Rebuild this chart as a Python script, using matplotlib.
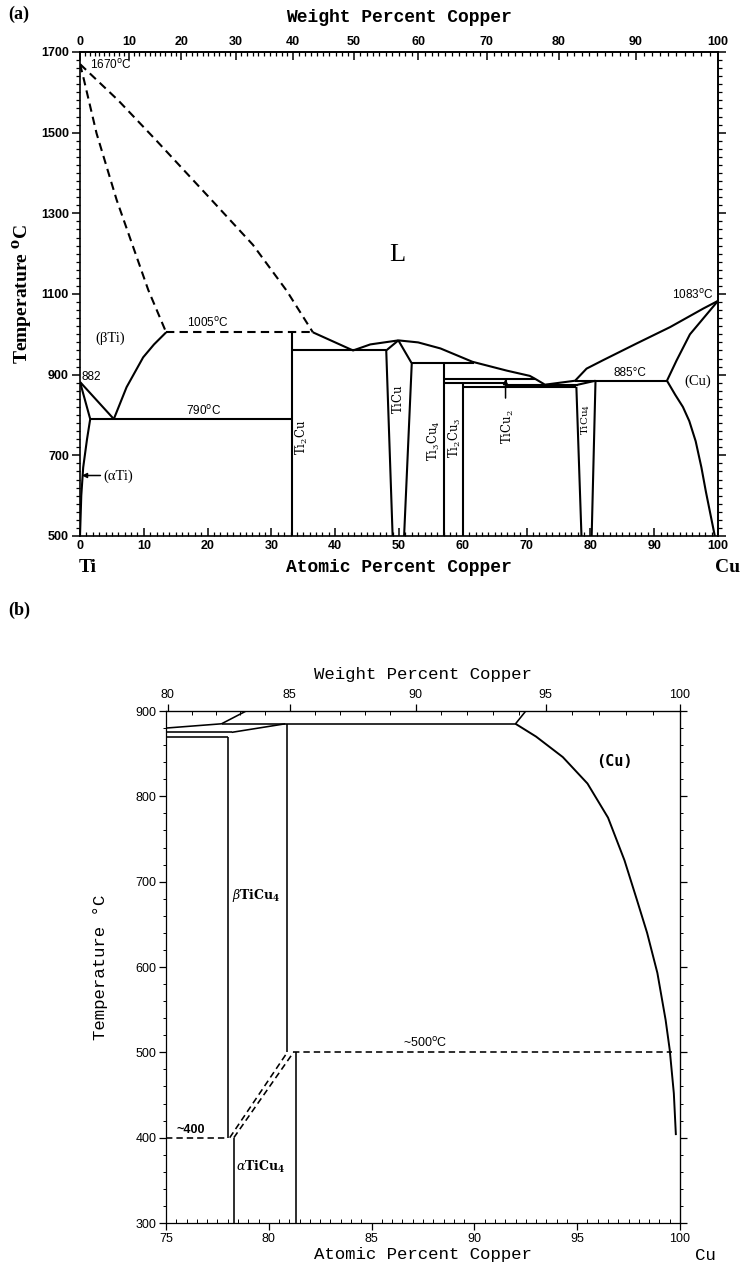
import numpy as np
import matplotlib.pyplot as plt
from matplotlib.ticker import MultipleLocator, FixedLocator

M_CU, M_TI = 63.546, 47.867


def at2wt(x):
    x = np.asarray(x, float)
    with np.errstate(divide='ignore', invalid='ignore'):
        return 100 * M_CU * x / (M_CU * x + M_TI * (100 - x))


def wt2at(w):
    w = np.asarray(w, float)
    with np.errstate(divide='ignore', invalid='ignore'):
        return 100 * (w / M_CU) / (w / M_CU + (100 - w) / M_TI)


# ---- (a) full Ti-Cu diagram: atomic % Cu, temperature degC ----
liq_ti_x = [0, 6.0, 12.0, 20.8, 27.1, 32.4, 36.5]
liq_ti_t = [1670, 1580, 1480, 1330, 1222, 1108, 1005]
sol_ti_x = [0, 0.5, 2.6, 5.75, 10.7, 13.5]
sol_ti_t = [1670, 1639, 1498, 1333, 1110, 1005]
transus_x = [13.5, 11.6, 9.9, 7.3, 5.3]
transus_t = [1005, 975, 943, 869, 790]
beta_eut_x = [0, 5.3]
beta_eut_t = [882, 790]
alpha_up_x = [0, 1.6]
alpha_up_t = [882, 790]
alpha_solv_x = [1.6, 1.1, 0.5, 0.2, 0]
alpha_solv_t = [790, 740, 670, 600, 500]
liq_mid_x = [36.5, 42.8, 45.5, 49.9, 53.0, 56.5, 61.5, 66.9, 70.5, 71.3, 72.8]
liq_mid_t = [1005, 960, 975, 985, 980, 965, 932, 910, 897, 890, 876]
ticu_l_x = [49.9, 48.0, 49.0]
ticu_l_t = [985, 960, 500]
ticu_r_x = [49.9, 52.0, 50.8]
ticu_r_t = [985, 928, 500]
liq_cu_x = [72.8, 77.6, 79.4, 82.0, 87.2, 92.5, 97.7, 100]
liq_cu_t = [875, 885, 915, 936, 977, 1018, 1064, 1083]
sol_cu_x = [92.0, 93.5, 95.6, 100]
sol_cu_t = [885, 935, 1000, 1083]
solv_cu_x = [92.0, 93.3, 94.5, 95.5, 96.5, 97.4, 98.1, 98.8, 99.5]
solv_cu_t = [885, 850, 820, 785, 735, 670, 610, 555, 500]
ticu4_sol_x = [78.0, 80.8]
ticu4_sol_t = [875, 885]
ticu4_l_x = [77.8, 78.6]
ticu4_l_t = [870, 500]
ticu4_r_x = [80.8, 80.2]
ticu4_r_t = [885, 500]
# isotherms: (T, x_start, x_end)
iso_solid = [(790, 1.6, 33.3), (960, 33.3, 48.0), (928, 52.0, 61.7),
             (890, 57.1, 71.3), (880, 57.1, 66.7), (875, 66.7, 78.0),
             (870, 60.0, 77.8), (885, 77.6, 92.0)]
iso_dash = [(1005, 13.5, 36.5)]
# line compounds: (x, T_low, T_high)
compounds = [(33.3, 500, 1005), (57.1, 500, 928), (60.0, 500, 880),
             (66.7, 870, 890)]
wt_ticks_a = [0, 10, 20, 30, 40, 50, 60, 70, 80, 90, 100]
t_ticks_a = [500, 700, 900, 1100, 1300, 1500, 1700]

# ---- (b) Cu-rich corner ----
b_liq_x = [75.0, 77.7, 78.9]
b_liq_t = [880, 885, 900]
b_solcu_x = [92.0, 92.5]
b_solcu_t = [885, 900]
b_solv_x = [92.0, 93.0, 94.3, 95.5, 96.5, 97.3, 97.9, 98.4, 98.9, 99.3, 99.5, 99.7, 99.8]
b_solv_t = [885, 870, 846, 815, 775, 725, 679, 640, 593, 538, 503, 452, 403]
b_bsol_x = [78.2, 80.8]
b_bsol_t = [875, 885]
b_iso_solid = [(885, 77.7, 92.0), (875, 75.0, 78.2), (870, 75.0, 78.0)]
b_vert = [(78.0, 400, 870), (80.9, 500, 885), (78.3, 300, 400), (81.3, 300, 500)]
b_iso_dash = [(400, 75.0, 78.0), (500, 81.2, 99.6)]
b_slant1_x = [78.1, 80.9]
b_slant1_t = [400, 500]
b_slant2_x = [78.3, 81.2]
b_slant2_t = [400, 500]
wt_ticks_b = [80, 85, 90, 95, 100]

DASH = (0, (4, 2.5))

fig = plt.figure(figsize=(7.45, 12.69), dpi=100)
W, H = 745.0, 1269.0


def line(ax, x, t, dash=False, lw=1.5):
    ax.plot(x, t, color='black', lw=lw, ls=DASH if dash else '-',
            solid_capstyle='butt', solid_joinstyle='round')


# =================== panel (a) ===================
ax = fig.add_axes([80 / W, 1 - 536 / H, 638 / W, 484 / H])
ax.set_xlim(0, 100)
ax.set_ylim(500, 1700)

line(ax, liq_ti_x, liq_ti_t, dash=True)
line(ax, sol_ti_x, sol_ti_t, dash=True)
for t, x0, x1 in iso_dash:
    line(ax, [x0, x1], [t, t], dash=True)
for xs, ts in [(transus_x, transus_t), (beta_eut_x, beta_eut_t),
               (alpha_up_x, alpha_up_t), (alpha_solv_x, alpha_solv_t),
               (liq_mid_x, liq_mid_t), (ticu_l_x, ticu_l_t),
               (ticu_r_x, ticu_r_t), (liq_cu_x, liq_cu_t),
               (sol_cu_x, sol_cu_t), (solv_cu_x, solv_cu_t),
               (ticu4_sol_x, ticu4_sol_t), (ticu4_l_x, ticu4_l_t),
               (ticu4_r_x, ticu4_r_t)]:
    line(ax, xs, ts)
for t, x0, x1 in iso_solid:
    line(ax, [x0, x1], [t, t])
for x, t0, t1 in compounds:
    line(ax, [x, x], [t0, t1])

for s in ax.spines.values():
    s.set_linewidth(1.2)

tick_font = dict(family='Liberation Sans', weight='bold', size=9)
ax.xaxis.set_major_locator(MultipleLocator(10))
ax.xaxis.set_minor_locator(MultipleLocator(1))
ax.yaxis.set_major_locator(FixedLocator(t_ticks_a))
ax.yaxis.set_minor_locator(MultipleLocator(20))
ax.tick_params(axis='x', which='major', direction='in', length=6, width=1.1, pad=3)
ax.tick_params(axis='x', which='minor', direction='in', length=3, width=0.9)
ax.tick_params(axis='y', which='major', direction='out', length=6, width=1.1, pad=2)
ax.tick_params(axis='y', which='minor', direction='out', length=3, width=0.9)
for lab in ax.get_xticklabels() + ax.get_yticklabels():
    lab.set_fontproperties(tick_font)

secx = ax.secondary_xaxis('top', functions=(at2wt, wt2at))
secx.xaxis.set_major_locator(FixedLocator(wt_ticks_a))
secx.xaxis.set_minor_locator(FixedLocator(list(range(0, 101))))
secx.tick_params(which='major', direction='in', length=6, width=1.1, pad=3)
secx.tick_params(which='minor', direction='in', length=3, width=0.9)
for lab in secx.get_xticklabels():
    lab.set_fontproperties(tick_font)
secx.spines['top'].set_linewidth(1.2)

secy = ax.secondary_yaxis('right')
secy.yaxis.set_major_locator(FixedLocator(t_ticks_a))
secy.yaxis.set_minor_locator(MultipleLocator(20))
secy.tick_params(which='major', direction='out', length=6, width=1.1, labelright=False)
secy.tick_params(which='minor', direction='out', length=3, width=0.9)
secy.spines['right'].set_linewidth(1.2)

mono_b = dict(family='Liberation Mono', weight='bold', size=13)
fig.text(399 / W, 1 - 17 / H, 'Weight Percent Copper', ha='center', va='center', **mono_b)
fig.text(399 / W, 1 - 568 / H, 'Atomic Percent Copper', ha='center', va='center', **mono_b)
fig.text(22 / W, 1 - 294 / H, r'Temperature $^{\mathbf{o}}$C', rotation=90,
         ha='center', va='center', family='Liberation Serif', weight='bold', size=14,
         math_fontfamily='dejavuserif')
fig.text(88 / W, 1 - 568 / H, 'Ti', ha='center', va='center',
         family='Liberation Serif', weight='bold', size=14)
fig.text(728 / W, 1 - 568 / H, 'Cu', ha='center', va='center',
         family='Liberation Serif', weight='bold', size=14)
fig.text(8 / W, 1 - 14 / H, '(a)', ha='left', va='center',
         family='Liberation Serif', weight='bold', size=13)

sans = dict(family='Liberation Sans', size=8.5, math_fontfamily='dejavusans')
serif = dict(family='Liberation Serif', size=10.5, math_fontfamily='dejavuserif')
chem = dict(family='DejaVu Serif', size=8.5, rotation=90, ha='center', va='center',
            math_fontfamily='dejavuserif')

ax.text(1.5, 1668, r'1670$^{\rm o}$C', ha='left', va='center', **sans)
ax.text(20.1, 1028, r'1005$^{\rm o}$C', ha='center', va='center', **sans)
ax.text(19.3, 810, r'790$^{\rm o}$C', ha='center', va='center', **sans)
ax.text(0.3, 893, '882', ha='left', va='center', **sans)
ax.text(99.3, 1098, r'1083$^{\rm o}$C', ha='right', va='center', **sans)
ax.text(86.2, 905, '885°C', ha='center', va='center', **sans)
ax.text(4.8, 990, '(βTi)', ha='center', va='center', **serif)
ax.text(3.6, 648, '(αTi)', ha='left', va='center', **serif)
ax.text(96.8, 884, '(Cu)', ha='center', va='center', **serif)
ax.text(49.8, 1196, 'L', ha='center', va='center', family='Liberation Serif', size=19)
ax.annotate('', xy=(0.3, 650), xytext=(3.2, 650),
            arrowprops=dict(arrowstyle='-|>', color='black', lw=1.1,
                            mutation_scale=7, shrinkA=0, shrinkB=0))
ax.annotate('', xy=(66.7, 889), xytext=(66.7, 842),
            arrowprops=dict(arrowstyle='-|>', color='black', lw=1.1,
                            mutation_scale=7, shrinkA=0, shrinkB=0))
ax.text(34.8, 745, r'$\mathrm{Ti_2Cu}$', **chem)
ax.text(49.9, 840, r'$\mathrm{TiCu}$', **chem)
ax.text(55.4, 737, r'$\mathrm{Ti_3Cu_4}$', **chem)
ax.text(58.8, 745, r'$\mathrm{Ti_2Cu_3}$', **chem)
ax.text(67.1, 772, r'$\mathrm{TiCu_2}$', **chem)
chem_s = dict(chem)
chem_s['size'] = 7.5
ax.text(79.3, 790, r'$\mathrm{TiCu_4}$', **chem_s)

# =================== panel (b) ===================
bx = fig.add_axes([166 / W, 1 - 1223 / H, 514 / W, 512 / H])
bx.set_xlim(75, 100)
bx.set_ylim(300, 900)
LW = 1.15
line(bx, b_liq_x, b_liq_t, lw=LW)
line(bx, b_solcu_x, b_solcu_t, lw=LW)
line(bx, b_solv_x, b_solv_t, lw=1.4)
line(bx, b_bsol_x, b_bsol_t, lw=LW)
for t, x0, x1 in b_iso_solid:
    line(bx, [x0, x1], [t, t], lw=LW)
for x, t0, t1 in b_vert:
    line(bx, [x, x], [t0, t1], lw=LW)
for t, x0, x1 in b_iso_dash:
    line(bx, [x0, x1], [t, t], dash=True, lw=LW)
line(bx, b_slant1_x, b_slant1_t, dash=True, lw=LW)
line(bx, b_slant2_x, b_slant2_t, dash=True, lw=LW)

for s in bx.spines.values():
    s.set_linewidth(0.9)
tick_font_b = dict(family='Liberation Sans', size=9)
bx.xaxis.set_major_locator(MultipleLocator(5))
bx.xaxis.set_minor_locator(MultipleLocator(0.5))
bx.yaxis.set_major_locator(MultipleLocator(100))
bx.yaxis.set_minor_locator(MultipleLocator(20))
bx.tick_params(axis='x', which='major', direction='out', length=5, width=0.9, pad=2)
bx.tick_params(axis='x', which='minor', direction='in', length=3, width=0.7)
bx.tick_params(axis='y', which='major', direction='out', length=5, width=0.9, pad=2)
bx.tick_params(axis='y', which='minor', direction='out', length=2.5, width=0.7)
for lab in bx.get_xticklabels() + bx.get_yticklabels():
    lab.set_fontproperties(tick_font_b)

bsecx = bx.secondary_xaxis('top', functions=(at2wt, wt2at))
bsecx.xaxis.set_major_locator(FixedLocator(wt_ticks_b))
bsecx.xaxis.set_minor_locator(FixedLocator(list(range(80, 101))))
bsecx.tick_params(which='major', direction='out', length=5, width=0.9, pad=2)
bsecx.tick_params(which='minor', direction='in', length=3, width=0.7)
for lab in bsecx.get_xticklabels():
    lab.set_fontproperties(tick_font_b)

bsecy = bx.secondary_yaxis('right')
bsecy.yaxis.set_major_locator(MultipleLocator(100))
bsecy.yaxis.set_minor_locator(MultipleLocator(20))
bsecy.tick_params(which='major', direction='out', length=5, width=0.9, labelright=False)
bsecy.tick_params(which='minor', direction='out', length=2.5, width=0.7)

mono = dict(family='Liberation Mono', size=12.5)
fig.text(423 / W, 1 - 675 / H, 'Weight Percent Copper', ha='center', va='center', **mono)
fig.text(423 / W, 1 - 1255 / H, 'Atomic Percent Copper', ha='center', va='center', **mono)
fig.text(100 / W, 1 - 967 / H, 'Temperature °C', rotation=90, ha='center', va='center', **mono)
fig.text(705 / W, 1 - 1255 / H, 'Cu', ha='center', va='center', **mono)
fig.text(8 / W, 1 - 610 / H, '(b)', ha='left', va='center',
         family='Liberation Serif', weight='bold', size=13)

sans_b = dict(family='Liberation Sans', size=9, math_fontfamily='dejavusans')
bx.text(76.2, 409, '~400', ha='center', va='center', weight='bold', **sans_b)
bx.text(87.6, 511, r'~500$^{\rm o}$C', ha='center', va='center', **sans_b)
bold_chem = dict(family='DejaVu Serif', size=9, math_fontfamily='dejavuserif')
bx.text(78.2, 684, r'$\beta\mathbf{TiCu}_\mathbf{4}$', ha='left', va='center', **bold_chem)
bx.text(78.4, 366, r'$\alpha\mathbf{TiCu}_\mathbf{4}$', ha='left', va='center', **bold_chem)
bx.text(96.8, 841, '(Cu)', ha='center', va='center', family='DejaVu Sans Mono',
        weight='bold', size=11)

fig.savefig('out.png', dpi=100)
